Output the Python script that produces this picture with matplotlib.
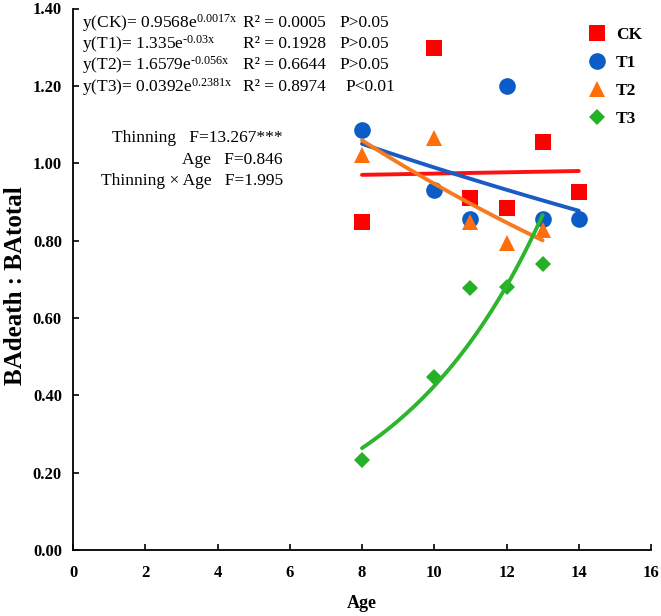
import numpy as np
import matplotlib
matplotlib.use("Agg")
import matplotlib.pyplot as plt
from matplotlib.ticker import FormatStrFormatter

plt.rcParams['font.family'] = ['Liberation Serif', 'DejaVu Serif']
plt.rcParams['mathtext.fontset'] = 'custom'
plt.rcParams['mathtext.rm'] = 'Liberation Serif'
plt.rcParams['mathtext.it'] = 'Liberation Serif:italic'
plt.rcParams['mathtext.default'] = 'regular'
plt.rcParams['axes.unicode_minus'] = False

# ---- data ----
groups = ["CK", "T1", "T2", "T3"]
ck_age = [8, 10, 11, 12, 13, 14]
ck_val = [0.847, 1.299, 0.909, 0.883, 1.056, 0.925]
t1_age = [8, 10, 11, 12, 13, 14]
t1_val = [1.086, 0.931, 0.857, 1.200, 0.856, 0.855]
t2_age = [8, 10, 11, 12, 13]
t2_val = [1.021, 1.064, 0.848, 0.793, 0.827]
t3_age = [8, 10, 11, 12, 13]
t3_val = [0.232, 0.446, 0.677, 0.681, 0.739]

# exponential fits y = a*exp(b*x) shown on chart
fit_a = [0.9568, 1.335, 1.6579, 0.0392]
fit_b = [0.0017, -0.03, -0.056, 0.2381]
fit_range = [(8, 14), (8, 14), (8, 13), (8, 13)]
eq_text = ["y(CK)= 0.9568e$^{0.0017x}$", "y(T1)= 1.335e$^{\u20100.03x}$",
           "y(T2)= 1.6579e$^{\u20100.056x}$", "y(T3)= 0.0392e$^{0.2381x}$"]
r2_text = ["R² = 0.0005", "R² = 0.1928", "R² = 0.6644", "R² = 0.8974"]
p_text = ["P>0.05", "P>0.05", "P>0.05", "P<0.01"]
anova_terms = ["Thinning", "Age", "Thinning × Age"]
anova_F = ["F=13.267***", "F=0.846", "F=1.995"]

xticks = [0, 2, 4, 6, 8, 10, 12, 14, 16]
yticks = [0.0, 0.2, 0.4, 0.6, 0.8, 1.0, 1.2, 1.4]

marker_colors = ["#FF0000", "#0B5CC7", "#FF6E0A", "#26B026"]
line_colors = ["#FF1010", "#1A5CC4", "#F67A1E", "#2DB52D"]
markers = ["s", "o", "^", "D"]
msizes = [11.5, 12, 12, 8.5]

W, H = 661, 616
fig = plt.figure(figsize=(W / 100, H / 100), dpi=100)
ax = fig.add_axes([73 / W, 1 - 550 / H, (651 - 73) / W, (550 - 8.5) / H])

series = [(ck_age, ck_val), (t1_age, t1_val), (t2_age, t2_val), (t3_age, t3_val)]
handles = []
for i, (xs, ys) in enumerate(series):
    h, = ax.plot(xs, ys, linestyle='none', marker=markers[i], ms=msizes[i],
                 color=marker_colors[i], markeredgewidth=0, label=groups[i], zorder=3)
    handles.append(h)
for i in range(4):
    xx = np.linspace(fit_range[i][0], fit_range[i][1], 100)
    ax.plot(xx, fit_a[i] * np.exp(fit_b[i] * xx), color=line_colors[i], lw=2.8,
            solid_capstyle='round', zorder=4)

ax.set_xlim(0, 16)
ax.set_ylim(0, 1.4)
ax.set_xticks(xticks)
ax.set_yticks(yticks)
ax.yaxis.set_major_formatter(FormatStrFormatter('%.2f'))
for s in ['top', 'right']:
    ax.spines[s].set_visible(False)
for s in ['left', 'bottom']:
    ax.spines[s].set_linewidth(1.3)
ax.tick_params(direction='in', length=4.5, width=1.2, labelsize=12)
ax.tick_params(axis='x', pad=11)
ax.tick_params(axis='y', pad=8)
for lab in ax.get_xticklabels() + ax.get_yticklabels():
    lab.set_fontweight('bold')
ax.set_xlabel("Age", fontsize=13, fontweight='bold', labelpad=10)
ax.set_ylabel("BAdeath : BAtotal", fontsize=18, fontweight='bold')
ax.yaxis.set_label_coords((27 - 73) / 578, (550 - 286) / 541.5)

def fx(px):
    return px / W
def fy(py):
    return 1 - py / H

eq_y = [23.3, 44.3, 65.3, 87.3]
for i in range(4):
    fig.text(fx(82), fy(eq_y[i]), eq_text[i], fontsize=12.5, va='center', ha='left')
    fig.text(fx(243), fy(eq_y[i]), r2_text[i], fontsize=12.5, va='center', ha='left')
    fig.text(fx(339 if i < 3 else 345), fy(eq_y[i]), p_text[i], fontsize=12.5,
             va='center', ha='left')

an_y = [138.3, 160, 180.7]
for i in range(3):
    fig.text(fx(283), fy(an_y[i]), anova_terms[i] + "   " + anova_F[i], fontsize=12.5,
             va='center', ha='right')

leg = fig.legend(handles=handles, loc='upper left', bbox_to_anchor=(588 / W, 1 - 27 / H),
                 frameon=False, borderpad=0, borderaxespad=0, handlelength=1.0,
                 handletextpad=0.6, labelspacing=0.68, numpoints=1,
                 prop={'family': 'Liberation Serif', 'weight': 'bold', 'size': 12.5})

fig.savefig("out.png", dpi=100)
